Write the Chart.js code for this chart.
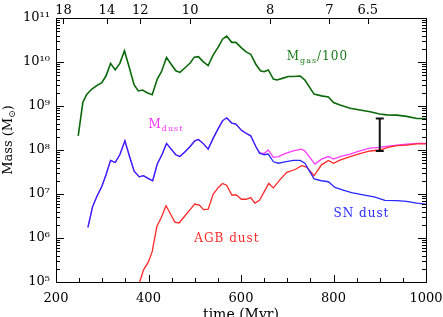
<!DOCTYPE html>
<html>
<head>
<meta charset="utf-8">
<script src="https://cdn.jsdelivr.net/npm/chart.js@4.4.0/dist/chart.umd.min.js"></script>
<style>
html, body { margin: 0; padding: 0; background: #fff; }
</style>
</head>
<body>
<canvas id="myChart" width="443" height="317"></canvas>
<script>
// gas mass / 100 (green)
const gasTime = [248, 258, 266, 277, 288, 299, 308, 318, 328, 338, 348, 358, 369, 378, 387, 397, 408, 419, 428, 439,
    449, 459, 468, 479, 490, 499, 508, 518, 529, 540, 551, 560, 569, 580, 589, 601, 611, 621, 632, 642,
    650, 659, 670, 678, 691, 702, 713, 728, 738, 758, 774, 789, 800, 814, 836, 857, 879, 900, 915, 937,
    958, 980, 1000];
const gasMass = [2.1e8, 1.2e9, 1.8e9, 2.4e9, 2.9e9, 3.4e9, 4.8e9, 9.3e9, 6.6e9, 9.3e9, 1.8e10, 7.8e9, 3.0e9, 2.2e9, 2.3e9, 2.0e9, 1.8e9, 4.1e9, 6.0e9, 1.26e10,
    8.9e9, 6.3e9, 5.8e9, 7.4e9, 9.5e9, 1.29e10, 1.32e10, 1.02e10, 8.3e9, 1.45e10, 2.2e10, 3.3e10, 3.9e10, 2.8e10, 2.8e10, 2.1e10, 1.7e10, 1.5e10, 8.9e9, 6.3e9,
    6.0e9, 6.6e9, 4.1e9, 3.9e9, 4.3e9, 4.7e9, 4.7e9, 4.8e9, 3.9e9, 1.86e9, 1.7e9, 1.6e9, 1.2e9, 1.05e9, 8.9e8, 8.1e8, 7.4e8, 6.6e8, 6.3e8, 6.2e8,
    5.8e8, 5.2e8, 5.2e8];

// SN dust (blue)
const snTime = [269, 279, 288, 299, 308, 318, 328, 338, 349, 359, 369, 380, 389, 398, 409, 419, 429, 439, 449, 459,
    468, 479, 490, 500, 508, 519, 529, 540, 551, 560, 569, 580, 589, 601, 611, 621, 632, 640, 650, 659,
    670, 681, 695, 713, 728, 738, 758, 774, 789, 803, 821, 839, 864, 890, 911, 937, 958, 980, 1000];
const snMass = [1.74e6, 5.1e6, 8.7e6, 1.48e7, 2.7e7, 5.8e7, 5.2e7, 7.8e7, 1.62e8, 7.1e7, 3.3e7, 2.45e7, 2.6e7, 2.3e7, 2.0e7, 4.8e7, 7.8e7, 1.41e8, 1.05e8, 7.8e7,
    7.1e7, 9.1e7, 1.2e8, 1.62e8, 1.74e8, 1.38e8, 1.05e8, 1.86e8, 3.1e8, 4.6e8, 5.4e8, 4.1e8, 3.9e8, 2.8e8, 2.4e8, 2.1e8, 1.2e8, 8.5e7, 7.8e7, 8.1e7,
    5.4e7, 5.0e7, 5.4e7, 5.8e7, 5.8e7, 5.0e7, 2.2e7, 2.0e7, 1.9e7, 1.41e7, 1.23e7, 1.07e7, 9.5e6, 8.5e6, 7.2e6, 7.1e6, 6.8e6, 6.2e6, 5.9e6];

// total dust (magenta)
const dustTime = [269, 279, 288, 299, 308, 318, 328, 338, 349, 359, 369, 380, 389, 398, 409, 419, 429, 439, 449, 459,
    468, 479, 490, 500, 508, 519, 529, 540, 551, 560, 569, 580, 589, 601, 611, 621, 632, 640, 650, 659,
    670, 681, 695, 713, 731, 738, 760, 774, 789, 800, 814, 836, 857, 879, 900, 918, 937, 958, 980, 1000];
const dustMass = [1.74e6, 5.1e6, 8.7e6, 1.48e7, 2.7e7, 5.8e7, 5.2e7, 7.8e7, 1.62e8, 7.1e7, 3.3e7, 2.45e7, 2.6e7, 2.3e7, 2.0e7, 4.8e7, 7.8e7, 1.41e8, 1.05e8, 7.8e7,
    7.1e7, 9.1e7, 1.2e8, 1.62e8, 1.74e8, 1.38e8, 1.05e8, 1.86e8, 3.1e8, 4.6e8, 5.4e8, 4.1e8, 3.9e8, 2.8e8, 2.4e8, 2.1e8, 1.2e8, 8.7e7, 8.3e7, 1.0e8,
    6.8e7, 7.1e7, 8.3e7, 9.5e7, 1.05e8, 9.5e7, 4.8e7, 6.2e7, 7.1e7, 6.2e7, 7.1e7, 8.1e7, 9.5e7, 1.1e8, 1.15e8, 1.23e8, 1.29e8, 1.35e8, 1.41e8, 1.41e8];

// AGB dust (red)
const agbTime = [381, 389, 400, 408, 418, 427, 438, 449, 457, 466, 479, 490, 500, 510, 519, 529, 540, 551, 560, 569,
    580, 590, 601, 611, 621, 630, 640, 650, 660, 670, 684, 699, 717, 731, 742, 758, 774, 789, 800, 814,
    836, 857, 879, 900, 918, 937, 958, 980, 1000];
const agbMass = [1.0e5, 1.86e5, 2.9e5, 4.9e5, 1.82e6, 2.8e6, 5.4e6, 3.3e6, 2.3e6, 2.2e6, 3.2e6, 4.4e6, 5.9e6, 5.6e6, 4.4e6, 4.5e6, 1.0e7, 1.41e7, 1.74e7, 1.58e7,
    9.5e6, 9.5e6, 7.6e6, 7.6e6, 8.3e6, 6.2e6, 7.2e6, 1.12e7, 1.74e7, 1.38e7, 2.1e7, 3.1e7, 3.6e7, 4.4e7, 4.1e7, 2.6e7, 4.6e7, 5.8e7, 5.0e7, 5.9e7,
    7.1e7, 8.3e7, 9.5e7, 1.0e8, 1.15e8, 1.26e8, 1.29e8, 1.38e8, 1.38e8];

// error bar at 900 Myr
const errTime = [900, 900];
const errMass = [9.5e7, 5.2e8];

// axis ticks
const xTicks = [200, 400, 600, 800, 1000];
const yTicks = [1e5, 1e6, 1e7, 1e8, 1e9, 1e10, 1e11];
const zTime = [216, 310, 382, 490, 663, 791, 874];
const zLabels = ['18', '14', '12', '10', '8', '7', '6.5'];

const FONT = 'DejaVu Serif';
const sup = { '0': '\u2070', '1': '\u00b9', '2': '\u00b2', '3': '\u00b3', '4': '\u2074', '5': '\u2075', '6': '\u2076', '7': '\u2077', '8': '\u2078', '9': '\u2079' };

function pts(xs, ys) {
    return xs.map((x, i) => ({ x: x, y: ys[i] }));
}

// draws "main" + smaller lowered "sub" + "rest"
function subText(ctx, x, y, main, sub, rest, size) {
    ctx.font = size + 'px ' + FONT;
    ctx.fillText(main, x, y);
    x += ctx.measureText(main).width;
    ctx.font = Math.round(size * 0.7) + 'px ' + FONT;
    ctx.fillText(sub, x, y + size * 0.25);
    x += ctx.measureText(sub).width;
    if (rest) {
        ctx.font = size + 'px ' + FONT;
        ctx.fillText(rest, x, y);
    }
}

const extras = {
    id: 'extras',
    afterDraw(chart) {
        const { ctx, chartArea: a, scales } = chart;
        const x = scales.x, y = scales.y;
        ctx.save();
        ctx.fillStyle = '#000';
        // inward ticks
        for (let t = 250; t < 1000; t += 50) {
            const px = Math.round(x.getPixelForValue(t));
            const len = t % 200 === 0 ? 7 : 4;
            ctx.fillRect(px, a.bottom - len, 1, len);
        }
        zTime.forEach(t => {
            const px = Math.round(x.getPixelForValue(t));
            ctx.fillRect(px, a.top, 1, 6);
        });
        for (let e = 5; e <= 11; e++) {
            for (let k = 1; k <= 9; k++) {
                const v = k * Math.pow(10, e);
                if (v > 1e11) break;
                const py = Math.round(y.getPixelForValue(v));
                const len = k === 1 ? 8 : 4;
                ctx.fillRect(a.left, py, len, 1);
                ctx.fillRect(a.right - len, py, len, 1);
            }
        }

        // curve labels
        ctx.textAlign = 'left';
        ctx.textBaseline = 'alphabetic';
        ctx.letterSpacing = '1px';
        ctx.fillStyle = '#1a7a1a';
        subText(ctx, x.getPixelForValue(699), y.getPixelForValue(1.1e10), 'M', 'gas', '/100', 12);
        ctx.fillStyle = '#ff33ff';
        subText(ctx, x.getPixelForValue(400), y.getPixelForValue(3.1e8), 'M', 'dust', '', 12);
        ctx.font = '12px ' + FONT;
        ctx.fillStyle = '#ff2a2a';
        ctx.fillText('AGB dust', x.getPixelForValue(499), y.getPixelForValue(8.2e5));
        ctx.fillStyle = '#2a2aff';
        ctx.fillText('SN dust', x.getPixelForValue(800), y.getPixelForValue(3.0e6));
        ctx.letterSpacing = '0px';

        // axis titles
        ctx.fillStyle = '#000';
        ctx.font = '14px ' + FONT;
        ctx.textAlign = 'center';
        ctx.fillText('time (Myr)', (a.left + a.right) / 2, 319);
        ctx.translate(12, 140);
        ctx.rotate(-Math.PI / 2);
        ctx.textAlign = 'left';
        ctx.font = '13px ' + FONT;
        const w1 = ctx.measureText('Mass (M').width;
        ctx.font = '9px ' + FONT;
        const w2 = ctx.measureText('\u2299').width;
        ctx.font = '13px ' + FONT;
        const w3 = ctx.measureText(')').width;
        subText(ctx, -(w1 + w2 + w3) / 2, 0, 'Mass (M', '\u2299', ')', 13);
        ctx.restore();
    }
};

const ctx = document.getElementById('myChart').getContext('2d');
new Chart(ctx, {
    type: 'line',
    data: {
        datasets: [{
            label: 'SN dust',
            data: pts(snTime, snMass),
            borderColor: 'rgb(40, 40, 255)',
            borderWidth: 1.3,
            order: 1
        }, {
            label: 'M_dust',
            data: pts(dustTime, dustMass),
            borderColor: 'rgb(255, 60, 255)',
            borderWidth: 1.3,
            order: 3
        }, {
            label: 'AGB dust',
            data: pts(agbTime, agbMass),
            borderColor: 'rgb(255, 40, 40)',
            borderWidth: 1.3,
            order: 2
        }, {
            label: 'M_gas/100',
            data: pts(gasTime, gasMass),
            borderColor: 'rgb(10, 105, 10)',
            borderWidth: 1.6,
            order: 4
        }, {
            label: 'error',
            data: pts(errTime, errMass),
            borderColor: '#111',
            borderWidth: 2,
            pointStyle: 'line',
            pointRadius: 4,
            pointBorderColor: '#111',
            pointBorderWidth: 2,
            order: 0
        }]
    },
    options: {
        responsive: false,
        animation: false,
        elements: {
            point: { radius: 0 },
            line: { tension: 0, fill: false }
        },
        layout: { padding: 0 },
        plugins: {
            legend: { display: false },
            tooltip: { enabled: false }
        },
        scales: {
            x: {
                type: 'linear',
                position: 'bottom',
                min: 200,
                max: 1000,
                afterFit: s => { s.height = 35; s.paddingLeft = 0; s.paddingRight = 0; },
                afterBuildTicks: s => { s.ticks = xTicks.map(v => ({ value: v })); },
                grid: { display: false, drawTicks: false },
                border: { display: true, color: '#000', width: 1 },
                ticks: {
                    font: { family: FONT, size: 13 },
                    color: '#000',
                    padding: 9,
                    maxRotation: 0,
                    autoSkip: false,
                    callback: v => String(v)
                }
            },
            x2: {
                type: 'linear',
                position: 'top',
                min: 200,
                max: 1000,
                afterFit: s => { s.height = 18; s.paddingLeft = 0; s.paddingRight = 0; },
                afterBuildTicks: s => { s.ticks = zTime.map(v => ({ value: v })); },
                grid: { display: false, drawTicks: false },
                border: { display: true, color: '#000', width: 1 },
                ticks: {
                    font: { family: FONT, size: 13 },
                    color: '#000',
                    padding: 0,
                    maxRotation: 0,
                    autoSkip: false,
                    callback: (v, i) => zLabels[i]
                }
            },
            y: {
                type: 'logarithmic',
                position: 'left',
                min: 1e5,
                max: 1e11,
                afterFit: s => { s.width = 56; s.paddingTop = 0; s.paddingBottom = 0; },
                afterBuildTicks: s => { s.ticks = yTicks.map(v => ({ value: v })); },
                grid: { display: false, drawTicks: false },
                border: { display: true, color: '#000', width: 1 },
                ticks: {
                    font: { family: FONT, size: 13 },
                    color: '#000',
                    padding: 6,
                    autoSkip: false,
                    callback: v => '10' + String(Math.round(Math.log10(v))).split('').map(c => sup[c]).join('')
                }
            },
            y2: {
                type: 'logarithmic',
                position: 'right',
                min: 1e5,
                max: 1e11,
                afterFit: s => { s.width = 17; s.paddingTop = 0; s.paddingBottom = 0; },
                grid: { display: false, drawTicks: false },
                border: { display: true, color: '#000', width: 1 },
                ticks: { display: false }
            }
        }
    },
    plugins: [extras]
});
</script>
</body>
</html>
